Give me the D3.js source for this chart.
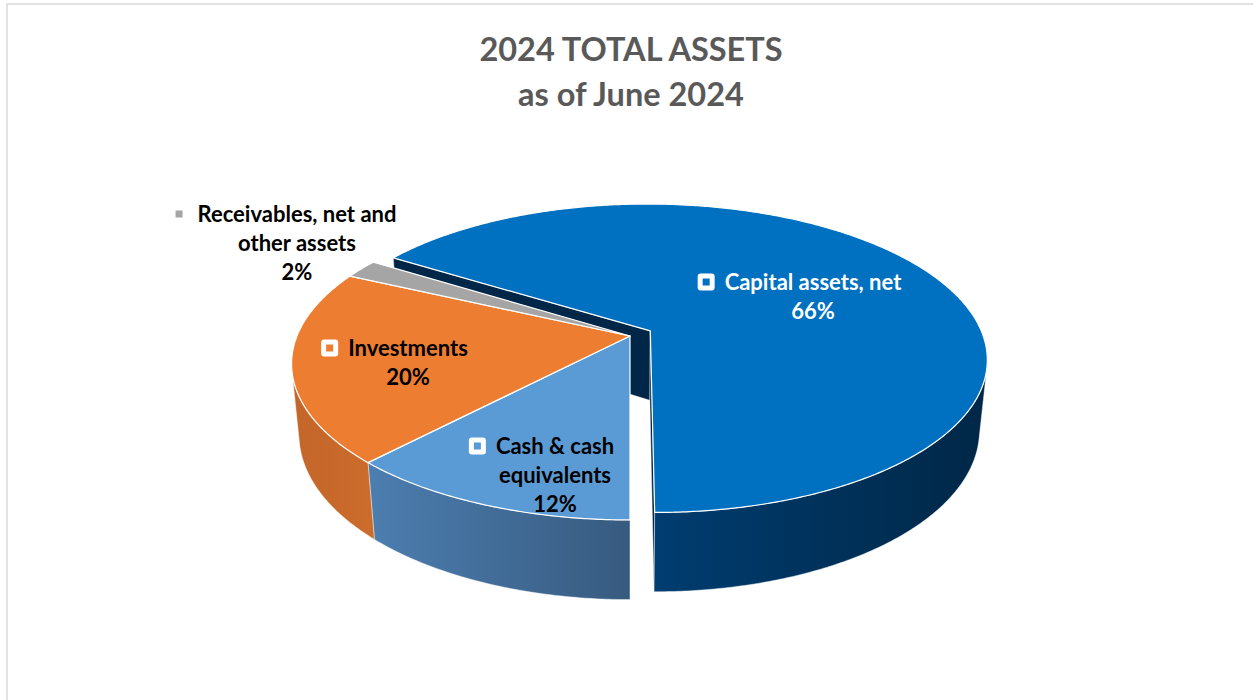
<!DOCTYPE html>
<html>
<head>
<meta charset="utf-8">
<script src="https://cdn.jsdelivr.net/npm/d3@7"></script>
<style>
  body { margin: 0; background: #fff; }
  svg { display: block; }
  text { font-family: Lato, "Open Sans", sans-serif; font-weight: 700; }
</style>
</head>
<body>
<svg id="chart" width="1253" height="700"></svg>
<script>
// Data
const categories = ["Cash & cash equivalents", "Investments", "Receivables, net and other assets", "Capital assets, net"];
const shares = [12, 20, 2, 66];
const labelLines = [
  ["Cash & cash", "equivalents", "12%"],
  ["Investments", "20%"],
  ["Receivables, net and", "other assets", "2%"],
  ["Capital assets, net", "66%"],
];
const explodedSlices = ["Capital assets, net"];
const titleLines = ["2024 TOTAL ASSETS", "as of June 2024"];

// Styles
const topColors = ["#5b9bd5", "#ed7d31", "#a5a5a5", "#0070c0"];
const wallColors = [["#4c7eb0", "#375a7f"], ["#c4652a", "#cb6c2c"], ["#8a8a8a", "#7a7a7a"], ["#003d70", "#002747"]];
const labelColors = ["#000", "#000", "#000", "#fff"];
// label block: centre x, first baseline y
const labelAnchors = [[555, 454], [408, 356], [297, 222], [813, 290]];

const width = 1253;
const height = 700;
const svg = d3.select("#chart");

// border
svg.append("rect")
  .attr("x", 7).attr("y", 4)
  .attr("width", width).attr("height", height)
  .attr("fill", "none").attr("stroke", "#d9d9d9").attr("stroke-width", 1.5);

// Title
svg.append("g").selectAll("text")
  .data(titleLines)
  .join("text")
  .attr("x", 631)
  .attr("y", (d, i) => 61 + i * 45)
  .attr("text-anchor", "middle")
  .attr("font-size", 32.5)
  .attr("fill", "#595959")
  .text((d) => d);

// 3D projection of the pie (unit radius, perspective camera)
const cx = 630, cy = 336;
const F = 1665, D = 5, phi = 27 * Math.PI / 180, H = 0.24, explode = 0.07;
const camY = D * Math.sin(phi), camZ = D * Math.cos(phi);

function project(x, y, z) {
  const ry = y - camY, rz = z - camZ;
  const depth = -ry * Math.sin(phi) - rz * Math.cos(phi);
  const sy = ry * Math.cos(phi) - rz * Math.sin(phi);
  return [cx + F * x / depth, cy - F * sy / depth];
}
function rim(a, r, h, o) {
  return project(o[0] + r * Math.sin(a), h, o[1] - r * Math.cos(a));
}
function sampleAngles(a0, a1) {
  const n = Math.max(2, Math.ceil(Math.abs(a1 - a0) / (Math.PI / 360)));
  return d3.range(n + 1).map((i) => a0 + (a1 - a0) * i / n);
}

const pie = d3.pie().sort(null).startAngle(Math.PI).endAngle(3 * Math.PI);
const arcs = pie(shares).map((a, i) => {
  const mid = (a.startAngle + a.endAngle) / 2;
  const ex = explodedSlices.includes(categories[i]) ? explode : 0;
  return { ...a, i, o: [ex * Math.sin(mid), -ex * Math.cos(mid)] };
});

const line = d3.line();
const defs = svg.append("defs");
const pieG = svg.append("g");

// radial (cut) faces that face the camera
const faces = [];
arcs.forEach((a) => {
  [[a.startAngle, -1], [a.endAngle, 1]].forEach(([ang, s]) => {
    const n = [s * Math.cos(ang), s * Math.sin(ang)];
    const dot = n[0] * (0 - a.o[0]) + n[1] * (camZ - a.o[1]);
    if (dot > 1e-6) faces.push({ a, ang });
  });
});
pieG.append("g").selectAll("path")
  .data(faces)
  .join("path")
  .attr("d", (f) => line([
    project(f.a.o[0], 0, f.a.o[1]),
    rim(f.ang, 1, 0, f.a.o),
    rim(f.ang, 1, -H, f.a.o),
    project(f.a.o[0], -H, f.a.o[1]),
  ]) + "Z")
  .attr("fill", (f) => wallColors[f.a.i][1])
  .attr("stroke", "rgba(255,255,255,0.5)")
  .attr("stroke-width", 0.8);

// outer walls: keep the part facing the camera
const walls = [];
arcs.forEach((a) => {
  const vis = sampleAngles(a.startAngle, a.endAngle).filter((t) =>
    -1 - camZ * Math.cos(t) - a.o[0] * Math.sin(t) + a.o[1] * Math.cos(t) > 0);
  if (vis.length < 2) return;
  const top = vis.map((t) => rim(t, 1, 0, a.o));
  const bottom = vis.slice().reverse().map((t) => rim(t, 1, -H, a.o));
  const xs = top.map((p) => p[0]);
  walls.push({ a, pts: top.concat(bottom), x0: d3.min(xs), x1: d3.max(xs) });
});
walls.forEach((w) => {
  const g = defs.append("linearGradient")
    .attr("id", `wall-${w.a.i}`)
    .attr("gradientUnits", "userSpaceOnUse")
    .attr("x1", w.x0).attr("x2", w.x1).attr("y1", 0).attr("y2", 0);
  g.append("stop").attr("offset", 0).attr("stop-color", wallColors[w.a.i][0]);
  g.append("stop").attr("offset", 1).attr("stop-color", wallColors[w.a.i][1]);
});
pieG.append("g").selectAll("path")
  .data(walls)
  .join("path")
  .attr("d", (w) => line(w.pts) + "Z")
  .attr("fill", (w) => `url(#wall-${w.a.i})`)
  .attr("stroke", "rgba(255,255,255,0.55)")
  .attr("stroke-width", 0.8);

// top faces
pieG.append("g").selectAll("path")
  .data(arcs)
  .join("path")
  .attr("d", (a) => line([project(a.o[0], 0, a.o[1])]
    .concat(sampleAngles(a.startAngle, a.endAngle).map((t) => rim(t, 1, 0, a.o)))) + "Z")
  .attr("fill", (a) => topColors[a.i])
  .attr("stroke", "#fff")
  .attr("stroke-width", 1.2)
  .attr("stroke-linejoin", "round");

// data labels
const fontSize = 22;
const lineH = 29;
const labels = svg.append("g").selectAll("g")
  .data(arcs)
  .join("g")
  .attr("transform", (a) => `translate(${labelAnchors[a.i][0]},${labelAnchors[a.i][1]})`);

labels.selectAll("text")
  .data((a) => labelLines[a.i].map((t) => ({ t, i: a.i })))
  .join("text")
  .attr("y", (d, k) => k * lineH)
  .attr("text-anchor", "middle")
  .attr("font-size", fontSize)
  .attr("fill", (d) => labelColors[d.i])
  .text((d) => d.t);

// legend keys before the first line
labels.each(function (a) {
  const g = d3.select(this);
  const w = g.select("text").node().getComputedTextLength();
  const kx = -w / 2 - 10 - 17;
  g.append("rect")
    .attr("x", kx).attr("y", -16.5)
    .attr("width", 17).attr("height", 17)
    .attr("rx", 3)
    .attr("fill", "#fff");
  g.append("rect")
    .attr("x", kx + 5).attr("y", -11.5)
    .attr("width", 7).attr("height", 7)
    .attr("fill", topColors[a.i]);
});
</script>
</body>
</html>
